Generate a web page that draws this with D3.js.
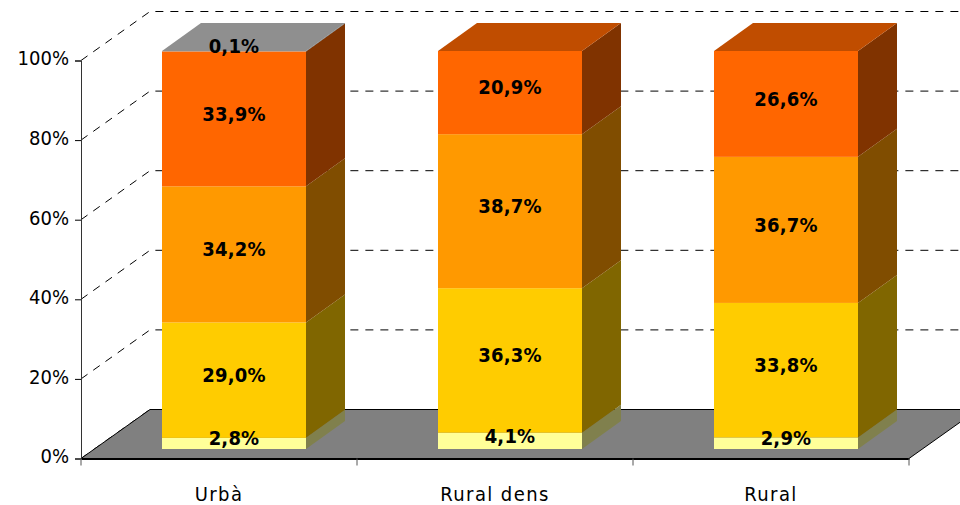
<!DOCTYPE html>
<html>
<head>
<meta charset="utf-8">
<script src="https://cdn.jsdelivr.net/npm/d3@7"></script>
<style>
html, body { margin: 0; padding: 0; background: #fff; }
svg { display: block; }
text { font-family: "DejaVu Sans Condensed", "DejaVu Sans", sans-serif; fill: #000; }
.tick text { font-size: 20px; }
.cat .tick text { letter-spacing: 1.4px; }
.val { font-size: 20px; font-weight: bold; text-anchor: middle; letter-spacing: 0.2px; }
</style>
</head>
<body>
<div class="viz"></div>
<script>
// data
var categories = ["Urbà", "Rural dens", "Rural"];
var seriesNames = ["s1", "s2", "s3", "s4", "s5"];
var s1 = [2.8, 4.1, 2.9];
var s2 = [29.0, 36.3, 33.8];
var s3 = [34.2, 38.7, 36.7];
var s4 = [33.9, 20.9, 26.6];
var s5 = [0.1, 0, 0];
var yTicks = [0, 20, 40, 60, 80, 100];

// dimensions
var width = 960, height = 505;
var floorDepth = { x: 69, y: -49 };
var barOffset = { x: 15, y: -9.5 };
var barDepth = { x: 39, y: -28 };

// colours: front, side, top
var front = ["#FFFF99", "#FFCC00", "#FF9900", "#FF6600", "#969696"];
var side = ["#80804D", "#806600", "#804D00", "#803300", "#4B4B4B"];
var top3d = ["#C0C073", "#C09900", "#C07300", "#C04D00", "#8F8F8F"];

// scales
var x = d3.scaleBand().domain(categories).range([81, 909]);
var y = d3.scaleLinear().domain([0, 100]).range([458.5, 60.5]);

var svg = d3.select(".viz").append("svg")
    .attr("width", width)
    .attr("height", height);

// back wall grid
yTicks.forEach(function(t) {
    var x0 = 81, y0 = y(t);
    svg.append("path")
        .attr("d", "M" + x0 + "," + y0 + "L" + (x0 + floorDepth.x) + "," + (y0 + floorDepth.y) + "L" + width + "," + (y0 + floorDepth.y))
        .attr("fill", "none")
        .attr("stroke", "#000")
        .attr("stroke-dasharray", "8,7");
});

// floor
svg.append("polygon")
    .attr("points", [[81, y(0)], [81 + floorDepth.x, y(0) + floorDepth.y], [909 + floorDepth.x, y(0) + floorDepth.y], [909, y(0)]].join(" "))
    .attr("fill", "#808080")
    .attr("stroke", "#000")
    .attr("stroke-width", 1);

// stacks
var rows = categories.map(function(c, i) {
    return { cat: c, s1: s1[i], s2: s2[i], s3: s3[i], s4: s4[i], s5: s5[i] };
});
var stacked = d3.stack().keys(seriesNames)(rows);

var barW = 144;
function bx(d) { return x(d.data.cat) + x.bandwidth() / 2 - barW / 2 + barOffset.x; }
function by(v) { return y(v) + barOffset.y; }

stacked.forEach(function(layer, k) {
    var g = svg.append("g").attr("class", "layer");
    layer.forEach(function(d) {
        if (d[1] - d[0] <= 0) return;
        var l = bx(d), r = l + barW, t = by(d[1]), b = by(d[0]);
        g.append("rect")
            .attr("x", l).attr("y", t)
            .attr("width", barW).attr("height", b - t)
            .attr("fill", front[k]);
        g.append("polygon")
            .attr("points", [[r, t], [r + barDepth.x, t + barDepth.y], [r + barDepth.x, b + barDepth.y], [r, b]].join(" "))
            .attr("fill", side[k]);
    });
});

// top faces, grey one only where the thin series sits on top
stacked.forEach(function(layer, k) {
    layer.forEach(function(d) {
        var isTop = d[1] >= 99.95 && d[1] - d[0] > 0;
        if (!isTop) return;
        var l = bx(d), r = l + barW, t = by(d[1]);
        svg.append("polygon")
            .attr("points", [[l, t], [l + barDepth.x, t + barDepth.y], [r + barDepth.x, t + barDepth.y], [r, t]].join(" "))
            .attr("fill", top3d[k]);
    });
});

// axes
var yAxis = d3.axisLeft(y)
    .tickValues(yTicks)
    .tickFormat(function(d) { return d + "%"; })
    .tickSize(6)
    .tickPadding(6);
var xAxis = d3.axisBottom(x).tickSize(0).tickPadding(28);

var gY = svg.append("g").attr("transform", "translate(81,0)").call(yAxis);
gY.selectAll(".tick text").attr("dy", "0.22em");
gY.select(".domain").attr("stroke", "#333");

var gX = svg.append("g").attr("class", "cat").attr("transform", "translate(0," + y(0) + ")").call(xAxis);
gX.select(".domain").attr("stroke", "#000").attr("stroke-width", 2);
gX.selectAll(".sep")
    .data([81, 357, 633, 909])
    .enter().append("line")
    .attr("class", "sep")
    .attr("x1", function(d) { return d; })
    .attr("x2", function(d) { return d; })
    .attr("y1", 0).attr("y2", 7)
    .attr("stroke", "#555");

// value labels
stacked.forEach(function(layer) {
    layer.forEach(function(d) {
        var v = d[1] - d[0];
        if (v <= 0) return;
        svg.append("text")
            .attr("class", "val")
            .attr("x", bx(d) + barW / 2)
            .attr("y", (by(d[0]) + by(d[1])) / 2 - 5.5)
            .attr("dy", "0.36em")
            .text(v.toFixed(1).replace(".", ",") + "%");
    });
});
</script>
</body>
</html>
